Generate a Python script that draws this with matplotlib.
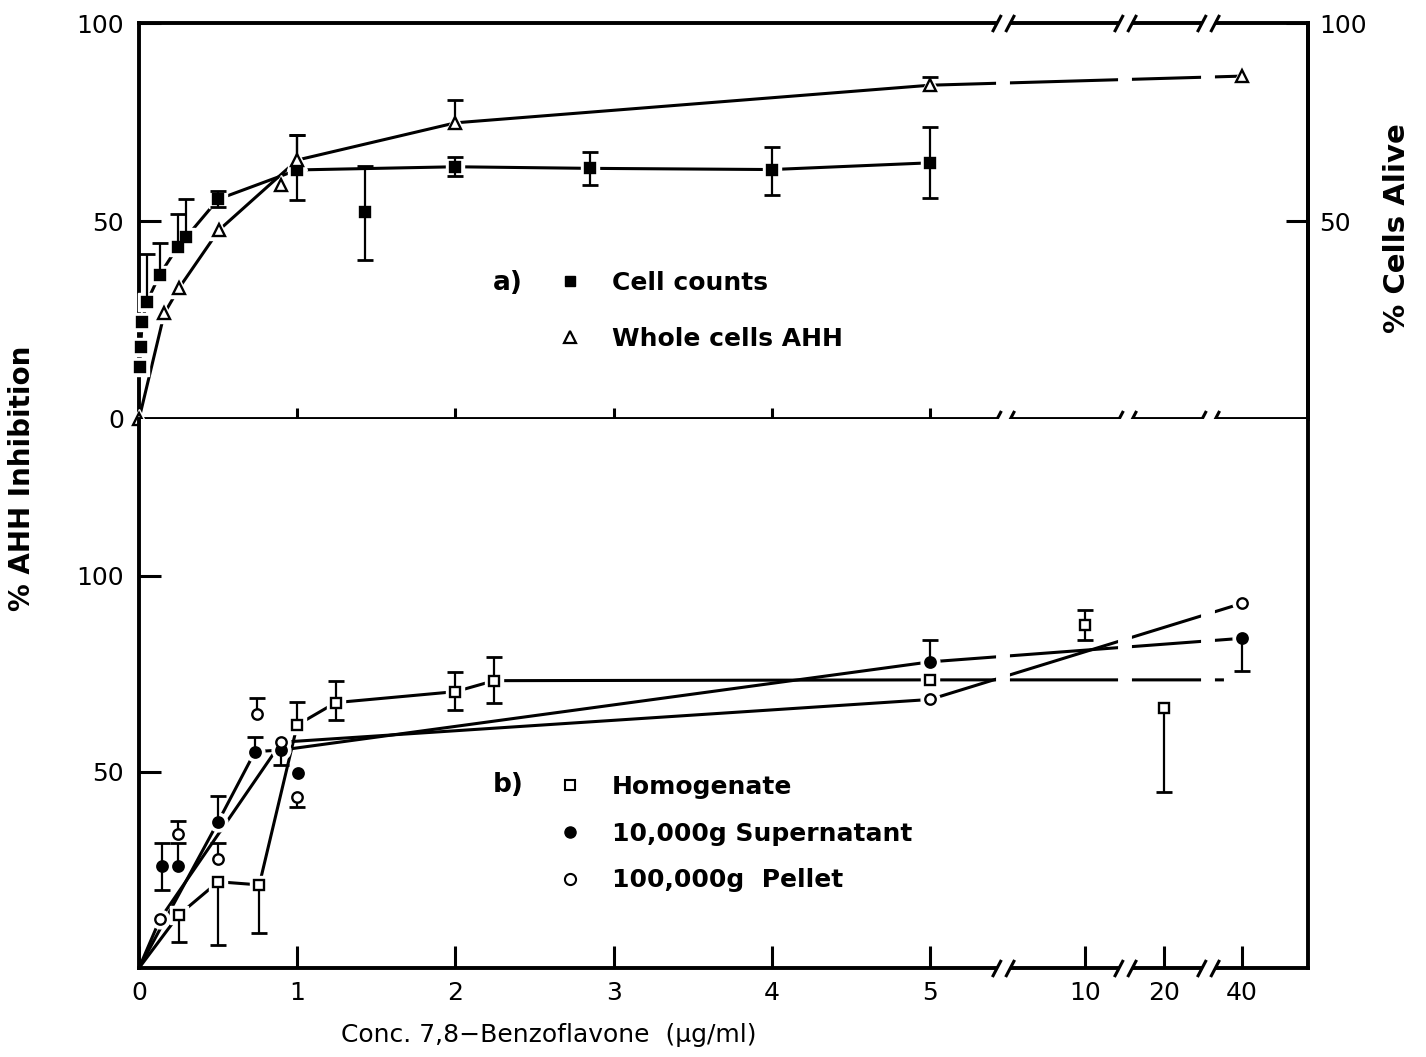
import numpy as np
import matplotlib
matplotlib.use("Agg")
import matplotlib.pyplot as plt
from matplotlib.path import Path
from matplotlib.lines import Line2D
from matplotlib.transforms import blended_transform_factory

plt.rcParams['font.family'] = ['DejaVu Sans']

# --- broken concentration axis: 0-5 linear, then compressed 10 / 20 / 40
CONC_KNOTS = [0, 5, 10, 20, 40]
POS_KNOTS = [0, 5, 5.98, 6.48, 6.97]
TAIL = (POS_KNOTS[-1] - POS_KNOTS[-2]) / (CONC_KNOTS[-1] - CONC_KNOTS[-2])
BREAKS = [7.35, 15, 31.4]          # where the axis is cut (//)
X_MAX = 57.1


def to_pos(c):
    c = np.asarray(c, dtype=float)
    p = np.interp(c, CONC_KNOTS, POS_KNOTS)
    p = np.where(c > CONC_KNOTS[-1], POS_KNOTS[-1] + (c - CONC_KNOTS[-1]) * TAIL, p)
    return np.where(c < 0, c, p)


def to_conc(p):
    p = np.asarray(p, dtype=float)
    c = np.interp(p, POS_KNOTS, CONC_KNOTS)
    c = np.where(p > POS_KNOTS[-1], CONC_KNOTS[-1] + (p - POS_KNOTS[-1]) / TAIL, c)
    return np.where(p < 0, p, c)


# --- a) whole cells
cell_x = [0.005, 0.01, 0.02, 0.05, 0.13, 0.245, 0.30, 0.50, 1.0, 1.43, 2.0, 2.85, 4.0, 5.0]
cell_y = [13.1, 18.2, 24.5, 29.6, 36.4, 43.5, 46.0, 55.5, 62.9, 52.2, 63.7, 63.3, 63.0, 64.7]
cell_up = [0, 0, 0, 12.0, 8.0, 8.3, 9.5, 2.0, 8.8, 11.8, 2.4, 4.2, 5.6, 9.1]
cell_lo = [0, 0, 0, 0, 0, 0, 0, 2.0, 7.6, 12.0, 2.4, 4.2, 6.4, 8.8]
cell_line = [True] * 9 + [False] + [True] * 4

tri_x = [0, 0.16, 0.255, 0.505, 0.90, 1.0, 2.0, 5.0, 40]
tri_y = [0, 26.7, 33.2, 47.7, 59.1, 65.4, 74.8, 84.3, 86.6]
tri_up = [0, 0, 0, 0, 0, 6.3, 5.8, 2.1, 0]
tri_lo = [0, 0, 0, 0, 0, 0, 0, 0, 0]
tri_line = [True, True, True, True, False, True, True, True, True]

# --- b) subcellular fractions
hom_x = [0.25, 0.50, 0.76, 1.0, 1.243, 2.0, 2.245, 5.0, 10, 20]
hom_y = [13.5, 22.0, 21.2, 62.0, 67.7, 70.5, 73.3, 73.5, 87.5, 66.4]
hom_up = [0, 0, 0, 5.8, 5.6, 5.1, 6.1, 0, 3.8, 0]
hom_lo = [6.8, 16.1, 12.2, 0, 4.4, 4.7, 5.6, 0, 3.8, 21.4]
hom_fit_x = [0, 0.25, 0.50, 0.76, 1.0, 1.243, 2.0, 2.245, 5.0, 35]
hom_fit_y = [0, 13.5, 22.0, 21.2, 62.0, 67.7, 70.5, 73.3, 73.5, 73.5]

sup_x = [0.143, 0.245, 0.50, 0.733, 0.90, 1.007, 5.0, 40]
sup_y = [25.9, 25.9, 37.3, 55.2, 55.6, 49.7, 78.1, 84.1]
sup_up = [6.1, 6.1, 6.6, 3.8, 0, 0, 5.6, 0]
sup_lo = [6.0, 0, 0, 0, 0, 0, 0, 8.3]
sup_fit_x = [0, 0.50, 0.733, 0.90, 5.0, 40]
sup_fit_y = [0, 37.3, 55.2, 55.6, 78.1, 84.1]

pel_x = [0.133, 0.245, 0.50, 0.748, 0.90, 1.0, 5.0, 40]
pel_y = [12.5, 34.2, 27.8, 64.8, 57.6, 43.5, 68.5, 93.0]
pel_up = [0, 3.3, 4.2, 4.0, 0, 0, 0, 0]
pel_lo = [0, 0, 0, 0, 5.8, 2.4, 0, 0]
pel_fit_x = [0, 0.133, 0.90, 5.0, 40]
pel_fit_y = [0, 12.5, 57.6, 68.5, 93.0]

x_ticks = [0, 1, 2, 3, 4, 5, 10, 20, 40]
x_tick_labels = ['0', '1', '2', '3', '4', '5', '10', '20', '40']

LW = 2.2
SPINE_LW = 2.8
TICK_FS = 18


def draw_errors(ax, x, y, lo, hi):
    x, y, lo, hi = (np.asarray(v, dtype=float) for v in (x, y, lo, hi))
    for sign, err in ((1, hi), (-1, lo)):
        m = err > 0
        ends = y[m] + sign * err[m]
        ax.vlines(x[m], y[m], ends, color='k', lw=1.6, zorder=3.5, clip_on=False)
        ax.plot(x[m], ends, ls='none', marker='_', ms=11.5, mew=2.0,
                color='k', zorder=3.5, clip_on=False)


def draw_points(ax, x, y, marker, ms, filled):
    # white halo so the joining lines stop short of each symbol
    ax.plot(x, y, ls='none', marker=marker, ms=ms + 6, color='white',
            mec='white', zorder=3, clip_on=False)
    ax.plot(x, y, ls='none', marker=marker, ms=ms, mec='k', mew=1.7,
            mfc='k' if filled else 'white', zorder=4, clip_on=False)


# break symbol "//" and the white gap between its strokes
slash_path = Path([(-1.3, -1), (-0.25, 1), (0.25, -1), (1.3, 1)],
                  [Path.MOVETO, Path.LINETO, Path.MOVETO, Path.LINETO])
gap_path = Path([(-1.3, -1), (0.25, -1), (1.3, 1), (-0.25, 1), (-1.3, -1)],
                [Path.MOVETO, Path.LINETO, Path.LINETO, Path.LINETO, Path.CLOSEPOLY])


def draw_breaks(ax, y_axes):
    tr = blended_transform_factory(ax.transData, ax.transAxes)
    yy = [y_axes] * len(BREAKS)
    ax.plot(BREAKS, yy, ls='none', marker=gap_path, ms=16, mfc='white', mec='white',
            mew=0, transform=tr, clip_on=False, zorder=6)
    ax.plot(BREAKS, yy, ls='none', marker=slash_path, ms=16, mfc='none', mec='k',
            mew=2.2, transform=tr, clip_on=False, zorder=7)


def style_axes(ax, ymax):
    ax.set_xscale('function', functions=(to_pos, to_conc))
    ax.set_xlim(0, X_MAX)
    ax.set_ylim(0, ymax)
    ax.xaxis.set_minor_locator(plt.NullLocator())
    ax.yaxis.set_minor_locator(plt.NullLocator())
    for s in ax.spines.values():
        s.set_linewidth(SPINE_LW)
    # lines are interrupted where the axis is cut
    for b in BREAKS:
        ax.axvline(b, color='white', lw=10, zorder=2.2)


fig = plt.figure(figsize=(14.26, 10.57), dpi=100)
ax_top = fig.add_axes([0.0975, 0.6036, 0.8198, 0.3746])
ax_bot = fig.add_axes([0.0975, 0.0842, 0.8198, 0.5194])

# ---------------- panel a
style_axes(ax_top, 100)
cx, cy = np.array(cell_x), np.array(cell_y)
ax_top.plot(cx[cell_line], cy[cell_line], color='k', lw=LW, zorder=2)
tx, ty = np.array(tri_x), np.array(tri_y)
ax_top.plot(tx[tri_line], ty[tri_line], color='k', lw=LW, zorder=2)
draw_points(ax_top, cell_x, cell_y, 's', 6.5, True)
draw_points(ax_top, tri_x, tri_y, '^', 8.5, False)
draw_errors(ax_top, cell_x, cell_y, cell_lo, cell_up)
draw_errors(ax_top, tri_x, tri_y, tri_lo, tri_up)

ax_top.set_xticks([1, 2, 3, 4, 5])
ax_top.tick_params(axis='x', direction='inout', length=16, width=2.2,
                   labelbottom=False)
ax_top.set_yticks([0, 50, 100])
ax_top.tick_params(axis='y', direction='in', length=16, width=2.2,
                   labelsize=TICK_FS, pad=11)
right = ax_top.secondary_yaxis('right')
right.set_yticks([50, 100])
right.tick_params(direction='in', length=16, width=2.2, labelsize=TICK_FS, pad=8)
right.spines['right'].set_linewidth(SPINE_LW)
draw_breaks(ax_top, 1.0)
draw_breaks(ax_top, 0.0)

fig.text(508 / 1426, 1 - 283 / 1057, 'a)', fontsize=19, fontweight='bold',
         ha='center', va='center')
ax_top.legend(
    [Line2D([], [], ls='none', marker='s', ms=7, color='k'),
     Line2D([], [], ls='none', marker='^', ms=8, mfc='white', mec='k', mew=1.6)],
    ['Cell counts', 'Whole cells AHH'],
    loc='upper left', bbox_to_anchor=(557 / 1426, 1 - 271 / 1057),
    bbox_transform=fig.transFigure, frameon=False, handlelength=1.0,
    handletextpad=1.18, labelspacing=1.28, borderpad=0, borderaxespad=0,
    prop={'size': 18, 'weight': 'bold'})

# ---------------- panel b
style_axes(ax_bot, 140.05)
ax_bot.spines['top'].set_visible(False)
ax_bot.plot(hom_fit_x, hom_fit_y, color='k', lw=LW, zorder=2)
ax_bot.plot(sup_fit_x, sup_fit_y, color='k', lw=LW, zorder=2)
ax_bot.plot(pel_fit_x, pel_fit_y, color='k', lw=LW, zorder=2)
draw_points(ax_bot, hom_x, hom_y, 's', 6.5, False)
draw_points(ax_bot, sup_x, sup_y, 'o', 7.5, True)
draw_points(ax_bot, pel_x, pel_y, 'o', 7.5, False)
draw_errors(ax_bot, hom_x, hom_y, hom_lo, hom_up)
draw_errors(ax_bot, sup_x, sup_y, sup_lo, sup_up)
draw_errors(ax_bot, pel_x, pel_y, pel_lo, pel_up)

ax_bot.set_xticks(x_ticks)
ax_bot.set_xticklabels(x_tick_labels)
ax_bot.tick_params(axis='x', direction='in', length=16, width=2.2,
                   labelsize=TICK_FS, pad=9)
ax_bot.set_yticks([50, 100])
ax_bot.tick_params(axis='y', direction='in', length=16, width=2.2,
                   labelsize=TICK_FS, pad=11)
draw_breaks(ax_bot, 0.0)

fig.text(508 / 1426, 1 - 785 / 1057, 'b)', fontsize=19, fontweight='bold',
         ha='center', va='center')
ax_bot.legend(
    [Line2D([], [], ls='none', marker='s', ms=7, mfc='white', mec='k', mew=1.5),
     Line2D([], [], ls='none', marker='o', ms=8, color='k'),
     Line2D([], [], ls='none', marker='o', ms=8, mfc='white', mec='k', mew=1.5)],
    ['Homogenate', '10,000g Supernatant', '100,000g  Pellet'],
    loc='upper left', bbox_to_anchor=(557 / 1426, 1 - 775 / 1057),
    bbox_transform=fig.transFigure, frameon=False, handlelength=1.0,
    handletextpad=1.18, labelspacing=0.91, borderpad=0, borderaxespad=0,
    prop={'size': 18, 'weight': 'bold'})

# ---------------- axis titles
fig.text(22 / 1426, 1 - 478 / 1057, '% AHH Inhibition', rotation=90,
         fontsize=20, fontweight='bold', ha='center', va='center')
fig.text(1397 / 1426, 1 - 228 / 1057, '% Cells Alive', rotation=90,
         fontsize=21, fontweight='bold', ha='center', va='center')
fig.text(549 / 1426, 1 - 1035 / 1057, 'Conc. 7,8\u2212Benzoflavone  (\u03bcg/ml)',
         fontsize=18, ha='center', va='center')

fig.savefig('out.png', dpi=100)
